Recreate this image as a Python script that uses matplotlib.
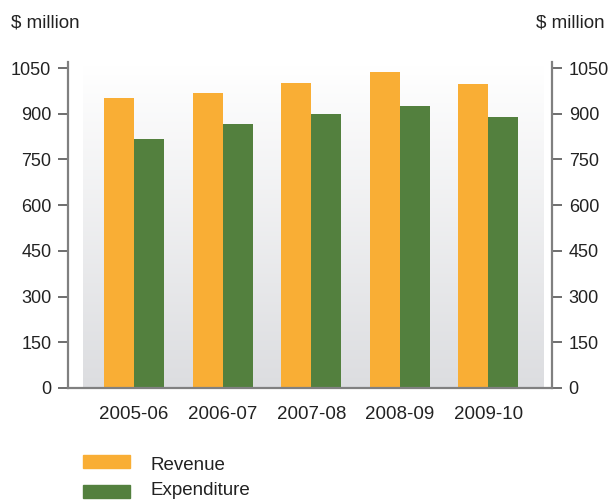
import numpy as np
import matplotlib.pyplot as plt
from matplotlib.colors import LinearSegmentedColormap

plt.rcParams['font.family'] = ['Liberation Sans', 'DejaVu Sans']

years = ['2005-06', '2006-07', '2007-08', '2008-09', '2009-10']
revenue = [952, 969, 1002, 1038, 998]
expenditure = [818, 867, 900, 926, 890]
yticks = [0, 150, 300, 450, 600, 750, 900, 1050]

orange = '#f9ae35'
green = '#53803e'
axis_grey = '#808080'
text_col = '#222222'

fig = plt.figure(figsize=(6.10, 5.01), dpi=100)
ax = fig.add_axes([68 / 610, 1 - 388 / 501, (552 - 68) / 610, (388 - 62) / 501])

x = np.arange(len(years))
w = 0.34

# soft white-to-grey backdrop behind the bars
grad = np.linspace(0, 1, 256).reshape(-1, 1)
cmap = LinearSegmentedColormap.from_list('bg', ['#dcdde0', '#ffffff'])
ax.imshow(grad, cmap=cmap, aspect='auto', origin='lower',
          extent=(-0.577, 4.63, 0, 1058), zorder=0)

ax.bar(x - w / 2, revenue, w, color=orange, zorder=2, label='Revenue')
ax.bar(x + w / 2, expenditure, w, color=green, zorder=2, label='Expenditure')

ax.set_xlim(-0.747, 4.72)
ax.set_ylim(0, 1070)

ax.spines['top'].set_visible(False)
for side in ['left', 'right', 'bottom']:
    ax.spines[side].set_color(axis_grey)
    ax.spines[side].set_linewidth(1.6)

ax.set_yticks(yticks)
ax.set_yticklabels([str(v) for v in yticks])
ax.tick_params(axis='y', which='both', left=True, right=True, labelleft=True,
               labelright=True, length=7, width=1.2, color='#555555',
               labelsize=13, labelcolor=text_col, pad=5)
ax.set_xticks(x)
ax.set_xticklabels(years)
ax.tick_params(axis='x', length=0, labelsize=13.5, labelcolor=text_col, pad=13)

fig.text(11 / 610, 1 - 23 / 501, '$ million', fontsize=13.5, color=text_col,
         va='center', ha='left')
fig.text(605 / 610, 1 - 23 / 501, '$ million', fontsize=13.5, color=text_col,
         va='center', ha='right')

# legend drawn as patches below the chart
legend_items = [('Revenue', orange, 461.5, 466), ('Expenditure', green, 491.5, 490.5)]
for label, col, yc, yt in legend_items:
    fig.patches.append(plt.Rectangle((83 / 610, 1 - (yc + 6.5) / 501), 47 / 610, 13 / 501,
                                     transform=fig.transFigure, color=col))
    fig.text(150 / 610, 1 - yt / 501, label, fontsize=13.5, color=text_col,
             va='center', ha='left')

fig.savefig('out.png', dpi=100)
